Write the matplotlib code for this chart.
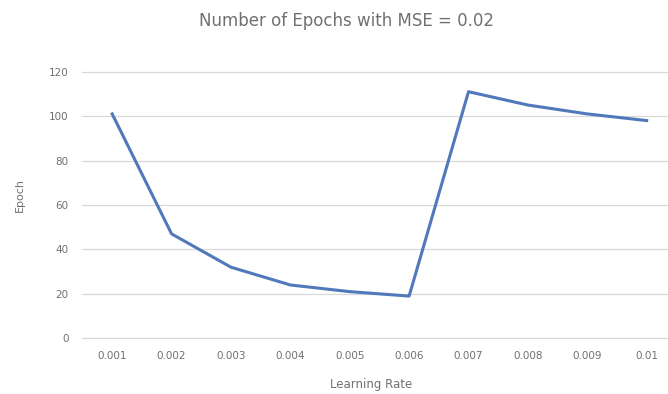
import matplotlib.pyplot as plt
import numpy as np

# datos
rates = ['0.001', '0.002', '0.003', '0.004', '0.005', '0.006', '0.007', '0.008', '0.009', '0.01']
epochs = [101, 47, 32, 24, 21, 19, 111, 105, 101, 98]
yticks = [0, 20, 40, 60, 80, 100, 120]

plt.rcParams['font.family'] = ['DejaVu Sans']

fig = plt.figure(figsize=(6.68, 3.94), dpi=100)
ax = fig.add_axes([0.1235, 0.1414, 0.889, 0.6766])

x = np.arange(len(rates))
ax.plot(x, epochs, '-', color='#5078BA', linewidth=2.2, solid_joinstyle='round')

ax.set_xlim(-0.5, len(rates) - 0.5)
ax.set_ylim(0, 120)
ax.set_yticks(yticks)
ax.set_xticks(x)
ax.set_xticklabels(rates)
ax.grid(axis='y', color='#d9d9d9', linewidth=0.9)
for gl in ax.get_ygridlines():
    gl.set_clip_on(False)
ax.set_axisbelow(True)
for s in ax.spines.values():
    s.set_visible(False)
ax.tick_params(length=0, labelsize=7.5, labelcolor='#707070')
ax.tick_params(axis='y', pad=10)
ax.tick_params(axis='x', pad=9)

ax.set_xlabel('Learning Rate', fontsize=8.5, color='#707070')
ax.xaxis.set_label_coords(0.486, -0.149)
ax.set_ylabel('Epoch', fontsize=8, color='#707070', va='center')
ax.yaxis.set_label_coords(-0.105, 0.537)
fig.text(0.519, 0.947, 'Number of Epochs with MSE = 0.02', ha='center', va='center',
         fontsize=12, color='#707070')

fig.savefig('out.png', dpi=100)
